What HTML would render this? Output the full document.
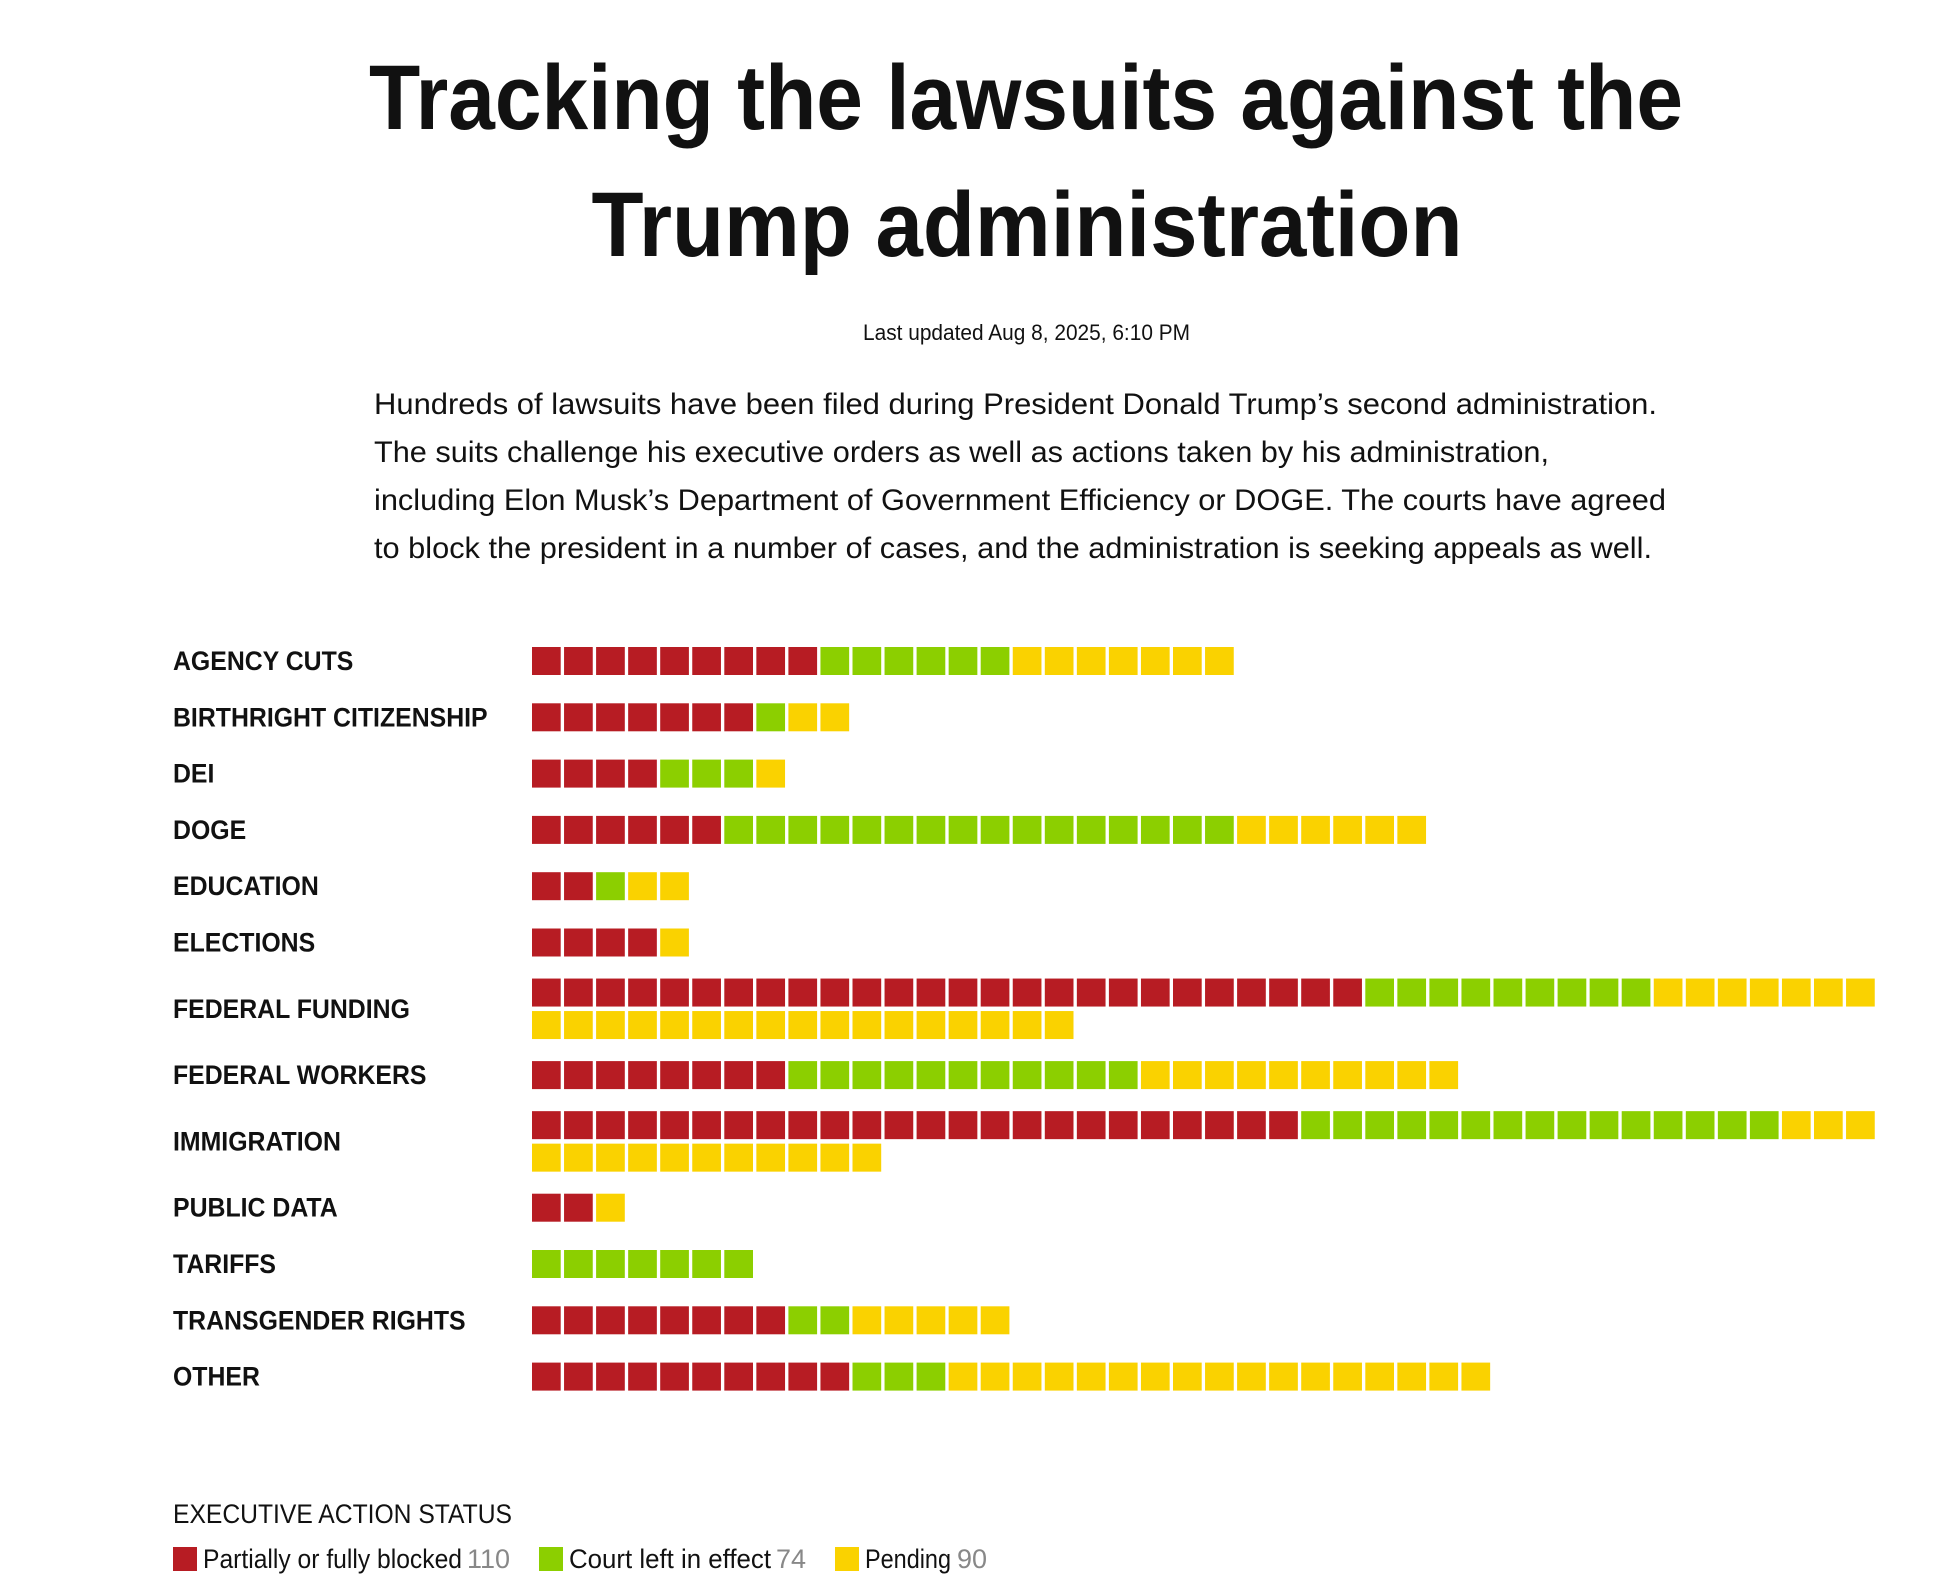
<!DOCTYPE html>
<html><head><meta charset="utf-8"><style>
html,body{margin:0;padding:0;background:#fff;}
svg{display:block;}
text{font-family:"Liberation Sans Narrow","Liberation Sans",sans-serif;fill:#111;}
</style></head><body>
<svg id="chart" width="1952" height="1590" viewBox="0 0 1952 1590">
<text x="1026" y="129" font-size="92" font-weight="bold" text-anchor="middle" textLength="1314" lengthAdjust="spacingAndGlyphs">Tracking the lawsuits against the</text>
<text x="1027" y="256" font-size="92" font-weight="bold" text-anchor="middle" textLength="871" lengthAdjust="spacingAndGlyphs">Trump administration</text>
<text x="863" y="340" font-size="22" textLength="327" lengthAdjust="spacingAndGlyphs">Last updated Aug 8, 2025, 6:10 PM</text>
<g font-size="30">
<text x="374" y="414" textLength="1283" lengthAdjust="spacingAndGlyphs">Hundreds of lawsuits have been filed during President Donald Trump’s second administration.</text>
<text x="374" y="462" textLength="1175" lengthAdjust="spacingAndGlyphs">The suits challenge his executive orders as well as actions taken by his administration,</text>
<text x="374" y="510" textLength="1292" lengthAdjust="spacingAndGlyphs">including Elon Musk’s Department of Government Efficiency or DOGE. The courts have agreed</text>
<text x="374" y="558" textLength="1278" lengthAdjust="spacingAndGlyphs">to block the president in a number of cases, and the administration is seeking appeals as well.</text>
</g>
<g id="rows"></g>
<g>
<text x="173" y="1523" font-size="27" textLength="339" lengthAdjust="spacingAndGlyphs">EXECUTIVE ACTION STATUS</text>
<rect x="173" y="1547" width="24" height="24" fill="#b71c23"/>
<text x="203" y="1568" font-size="27" textLength="259" lengthAdjust="spacingAndGlyphs">Partially or fully blocked</text>
<text id="tot0" x="467" y="1568" font-size="27" style="fill:#888"></text>
<rect x="539" y="1547" width="24" height="24" fill="#8ccf00"/>
<text x="569" y="1568" font-size="27" textLength="202" lengthAdjust="spacingAndGlyphs">Court left in effect</text>
<text id="tot1" x="776" y="1568" font-size="27" style="fill:#888"></text>
<rect x="835" y="1547" width="24" height="24" fill="#fad200"/>
<text x="865" y="1568" font-size="27" textLength="86" lengthAdjust="spacingAndGlyphs">Pending</text>
<text id="tot2" x="957" y="1568" font-size="27" style="fill:#888"></text>
</g>
</svg>
<script>
const categories = ["AGENCY CUTS","BIRTHRIGHT CITIZENSHIP","DEI","DOGE","EDUCATION","ELECTIONS","FEDERAL FUNDING","FEDERAL WORKERS","IMMIGRATION","PUBLIC DATA","TARIFFS","TRANSGENDER RIGHTS","OTHER"];
const blocked  = [9,7,4,6,2,4,26,8,24,2,0,8,10];
const inEffect = [6,1,3,16,1,0,9,11,15,0,7,2,3];
const pending  = [7,2,1,6,2,1,24,10,14,1,0,5,17];
const colors = ["#b71c23","#8ccf00","#fad200"];
const statusNames = ["blocked","in-effect","pending"];

const NS = "http://www.w3.org/2000/svg";
const g = document.getElementById("rows");
const X0 = 532, PITCH = 32.05, SQ = 28.7, SQH = 28, PER_ROW = 42;
const SUB = 32.5, SLOT = 56.3, EXTRA = 20;
let center = 647 + SQH/2;
const totals = [0,0,0];
categories.forEach((cat, i) => {
  const counts = [blocked[i], inEffect[i], pending[i]];
  const n = counts[0]+counts[1]+counts[2];
  const rows = Math.max(1, Math.ceil(n / PER_ROW));
  if (i > 0) {
    const prevN = blocked[i-1]+inEffect[i-1]+pending[i-1];
    const prevRows = Math.max(1, Math.ceil(prevN / PER_ROW));
    center += SLOT/2 + (prevRows-1)*EXTRA/2 + SLOT/2 + (rows-1)*EXTRA/2;
  }
  const top = center - ((rows-1)*SUB + SQH)/2;
  const lab = document.createElementNS(NS, "text");
  lab.setAttribute("x", 173);
  lab.setAttribute("y", center + 9);
  lab.setAttribute("font-size", "27");
  lab.setAttribute("font-weight", "bold");
  lab.textContent = cat;
  
  
  g.appendChild(lab);
  const L = lab.getComputedTextLength();
  if (L > 0) {
    lab.setAttribute("textLength", (L * 0.92).toFixed(1));
    lab.setAttribute("lengthAdjust", "spacingAndGlyphs");
  }
  let k = 0;
  counts.forEach((c, s) => {
    totals[s] += c;
    for (let j = 0; j < c; j++, k++) {
      const r = document.createElementNS(NS, "rect");
      const col = k % PER_ROW, row = Math.floor(k / PER_ROW);
      r.setAttribute("x", X0 + col*PITCH);
      r.setAttribute("y", top + row*SUB);
      r.setAttribute("width", SQ);
      r.setAttribute("height", SQH);
      r.setAttribute("fill", colors[s]);
      
      
      g.appendChild(r);
    }
  });
});
totals.forEach((t, s) => { document.getElementById("tot"+s).textContent = t; });
</script>
</body></html>
